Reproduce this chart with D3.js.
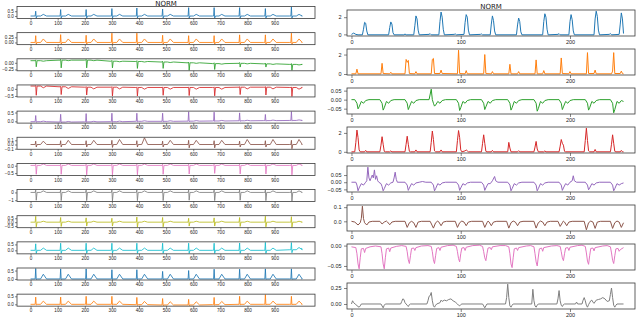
<!DOCTYPE html>
<html>
<head>
<meta charset="utf-8">
<script src="https://cdn.jsdelivr.net/npm/d3@7"></script>
<style>
  body { margin: 0; background: #fff; }
  svg { display: block; font-family: "DejaVu Sans", sans-serif; }
  .tick line { stroke: #333; stroke-width: 0.6; }
  .tick text { fill: #222; }
  .domain { display: none; }
</style>
</head>
<body>
<svg id="chart" width="638" height="318"></svg>
<script>
// ---- left panel: 12 leads, 1000 samples, values read per beat ----
const leftBeats = [19, 111, 205, 300, 392, 487, 583, 677, 771, 866, 962];
const leftBase = [
  0, 0,
  [0.08, 0.1, 0.1, 0.06, 0.05, 0.03, 0.0, -0.03, -0.02, -0.04, -0.06],
  [0.2, 0.15, 0.12, 0.12, 0.1, 0.1, 0.1, 0.1, 0.12, 0.12, 0.1],
  [-0.02, -0.04, -0.03, -0.02, 0.0, 0.0, 0.01, 0.02, 0.03, 0.04, 0.05],
  0, 0.02, 0, 0,
  [0, 0, 0, 0, 0, 0, 0, 0, 0, 0, 0.05],
  0,
  [0, 0, 0, 0, -0.02, -0.04, -0.04, -0.02, 0, 0, 0]
];
const leftR = [
  [0.5, 0.67, 0.67, 0.77, 0.83, 0.73, 0.87, 0.87, 0.87, 0.77, 0.93],
  [0.33, 0.38, 0.35, 0.45, 0.45, 0.35, 0.33, 0.33, 0.37, 0.37, 0.45],
  0.03,
  0.04,
  [0.35, 0.44, 0.47, 0.48, 0.46, 0.46, 0.53, 0.5, 0.45, 0.35, 0.5],
  [0.08, 0.09, 0.09, 0.1, 0.09, 0.08, 0.1, 0.09, 0.08, 0.09, 0.1],
  0.08,
  0.3,
  [0.75, 0.6, 0.55, 0.5, 0.65, 0.6, 0.5, 0.55, 0.6, 0.76, 0.7],
  [0.55, 0.6, 0.6, 0.6, 0.6, 0.6, 0.6, 0.6, 0.62, 0.67, 0.6],
  [0.62, 0.6, 0.6, 0.55, 0.55, 0.45, 0.5, 0.58, 0.58, 0.6, 0.6],
  [0.45, 0.45, 0.5, 0.5, 0.45, 0.4, 0.35, 0.45, 0.5, 0.6, 0.5]
];
const leftS = [
  -0.2, -0.08,
  [-0.23, -0.29, -0.29, -0.25, -0.26, -0.24, -0.28, -0.22, -0.14, -0.12, -0.22],
  [-0.65, -0.55, -0.55, -0.62, -0.6, -0.55, -0.57, -0.59, -0.52, -0.55, -0.63],
  -0.03,
  [-0.06, -0.06, -0.06, -0.07, -0.06, -0.06, -0.08, -0.08, -0.06, -0.06, -0.1],
  [-0.6, -0.6, -0.64, -0.64, -0.64, -0.6, -0.58, -0.54, -0.58, -0.58, -0.64],
  [-1.0, -1.05, -1.05, -1.1, -1.05, -1.05, -1.0, -1.05, -1.0, -1.05, -1.1],
  [-0.6, -0.55, -0.5, -0.5, -0.64, -0.6, -0.5, -0.5, -0.55, -0.6, -0.64],
  -0.25, -0.03, -0.04
];
const leftT = [
  0.17, 0.17, -0.02, -0.12, 0.03,
  [0.08, 0.1, 0.1, 0.12, 0.16, 0.1, 0.1, 0.1, 0.12, 0.12, 0.12],
  0.1, 0.2, 0.12, 0.19, 0.28, 0.2
];
const leftEnd = [0.02, 0, -0.06, 0.1, 0.05, 0, 0.02, 0, 0, 0.2, 0, 0];
const leftXTicks = [0, 100, 200, 300, 400, 500, 600, 700, 800, 900];
const leftYTicks = [
  ["0.0", "0.5"], ["0.00", "0.25"], ["−0.25", "0.00"], ["−0.5", "0.0"],
  ["0.0", "0.5"], ["−0.1", "0.0", "0.1"], ["−0.5", "0.0"], ["−1", "0"],
  ["−0.5", "0.0", "0.5"], ["0.0", "0.5"], ["0.0", "0.5"], ["0.0", "0.5"]
];

// ---- right panel: 8 channels, 250 samples, vertices ----
const rightBlue = [[0,0],[2,0.15],[4,0],[6,-0.05],[10,-0.05],[11,0.6],[12,1.4],[13,1.3],[14,0.4],[15,-0.05],
  [34,-0.05],[35,0.8],[36,1.45],[37,1.2],[38,0.2],[39,-0.05],[48,-0.05],[49,0.05],[50,-0.05],
  [57,-0.05],[58,1.0],[59,2.15],[60,1.8],[61,0.5],[62,-0.05],[71,0],[72,0.08],[73,-0.05],
  [80,-0.05],[81,1.5],[82,2.6],[83,2.0],[84,0.6],[85,-0.05],[94,0],[95,0.05],[96,-0.05],
  [103,0],[104,1.4],[105,2.3],[106,2.0],[107,0.5],[108,-0.05],[118,0],[119,0.05],[120,-0.05],
  [127,-0.05],[128,1.2],[129,2.15],[130,1.6],[131,0.4],[132,-0.05],
  [151,-0.05],[152,1.1],[153,1.9],[154,1.5],[155,0.3],[156,-0.05],
  [175,-0.05],[176,1.5],[177,2.4],[178,2.0],[179,0.6],[180,-0.05],[189,0],[190,0.08],[191,-0.05],
  [199,-0.05],[200,1.5],[201,2.3],[202,1.7],[203,0.4],[204,-0.05],
  [222,-0.05],[223,1.8],[224,2.7],[225,2.1],[226,0.5],[227,-0.05],[236,0],[237,0.1],[238,-0.05],
  [245,0],[246,1.2],[247,2.5],[248,1.8],[249,0.1]];
const rightOrange = [[0,0.02],[4,0.02],[5,0.5],[6,0.02],
  [27,0.02],[28,1.1],[29,0.05],[35,0.02],[36,0.18],[37,0.02],
  [49,0.02],[50,1.5],[51,1.2],[52,1.4],[53,0.05],[58,0.02],[59,0.25],[60,0.02],
  [73,0.02],[74,1.5],[75,1.6],[76,0.05],[81,0.05],[82,0.4],[83,0.05],
  [97,0.02],[98,2.45],[99,0.05],[104,0.02],[105,0.35],[106,0.02],
  [121,0.02],[122,2.0],[123,0.05],[128,0.02],[129,0.25],[130,0.02],
  [144,0.02],[145,1.0],[146,0.02],[152,0.02],[153,0.25],[154,0.02],
  [168,0.02],[169,1.45],[170,0.02],[175,0.02],[176,0.35],[177,0.02],
  [191,0.02],[192,1.65],[193,0.05],[199,0.02],[200,0.25],[201,0.02],
  [215,0.02],[216,2.2],[217,0.05],[222,0.05],[223,0.4],[224,0.02],
  [238,0.02],[239,0.3],[240,2.2],[241,0.05],[246,0.05],[247,0.3],[248,0.05],[249,0.02]];
const rightGreen = [[0,0],[3,0],[5,-0.02],[6,-0.051],[7,-0.04],[9,-0.01],[11,-0.02],[13,-0.005],[16,0],
  [26,0],[28,-0.02],[29,-0.058],[30,-0.045],[32,-0.01],[34,-0.02],[36,-0.005],[39,0],
  [49,0],[51,-0.02],[52,-0.055],[53,-0.04],[55,-0.01],[57,-0.02],[59,-0.005],[62,0],
  [71,0],[73,0.058],[74,0],[75,-0.02],[76,-0.036],[77,-0.03],[79,-0.01],[81,-0.02],[83,-0.005],[86,0],
  [96,0],[98,-0.02],[99,-0.06],[100,-0.045],[102,-0.01],[104,-0.02],[106,-0.005],[109,0],
  [119,0],[121,-0.02],[122,-0.055],[123,-0.04],[125,-0.01],[127,-0.02],[129,-0.005],[132,0],
  [143,0],[145,-0.02],[146,-0.058],[147,-0.045],[149,-0.01],[151,-0.02],[153,-0.005],[156,0],
  [167,0],[169,-0.02],[170,-0.064],[171,-0.05],[173,-0.01],[175,-0.02],[177,-0.005],[180,0],
  [190,0],[192,-0.02],[193,-0.055],[194,-0.04],[196,-0.01],[198,-0.02],[200,-0.005],[203,0],
  [214,0],[216,-0.02],[217,-0.058],[218,-0.045],[220,-0.01],[222,-0.02],[224,-0.005],[227,0],
  [237,0],[239,-0.02],[240,-0.073],[241,-0.055],[243,-0.01],[245,-0.02],[247,-0.005],[249,-0.01]];
const rightRed = [[0,0],[3,0],[4,1.0],[5,2.3],[6,1.5],[7,0.2],[8,0],[12,0],[13,0.15],[14,0],
  [26,0],[27,0.7],[28,1.6],[29,0.8],[30,0.05],[31,0],[35,0],[36,0.1],[37,0],
  [49,0],[50,0.8],[51,1.65],[52,0.8],[53,0.05],[54,0],[58,0],[59,0.2],[60,0],
  [72,0],[73,1.0],[74,2.2],[75,1.3],[76,0.1],[77,0],[81,0],[82,0.2],[83,0],
  [96,0],[97,1.2],[98,2.25],[99,1.5],[100,0.2],[101,0],[104,0.1],[105,0.2],[106,0.1],[107,0],
  [119,0],[120,0.9],[121,1.8],[122,0.9],[123,0.05],[124,0],[128,0],[129,0.15],[130,0],
  [143,0],[144,1.0],[145,0.4],[146,0],[152,0],[153,0.12],[154,0],
  [167,0],[168,0.5],[169,1.1],[170,0.3],[171,0],[176,0],[177,0.1],[178,0],
  [190,0],[191,0.6],[192,1.3],[193,0.9],[194,0.7],[195,0.05],[196,0],
  [213,0],[214,1.2],[215,2.5],[216,1.2],[217,0.1],[218,0],[222,0],[223,0.25],[224,0],
  [237,0],[238,0.8],[239,1.8],[240,0.9],[241,0.05],[242,0],[246,0],[247,0.15],[248,0],[249,0]];
const rightPurple = [[0,0],[4,0],[5,-0.02],[6,-0.06],[7,-0.04],[9,-0.01],[11,-0.02],[13,0],[14,0.01],[15,0.105],
  [16,0.03],[17,0.01],[18,0.03],[19,0.05],[20,0.03],[21,0.086],[22,0.02],[23,0.045],[24,0.01],[25,0],
  [27,-0.01],[28,-0.03],[29,-0.06],[30,-0.045],[32,-0.01],[34,-0.02],[36,-0.005],[38,0],[39,0.03],[40,0.07],[41,0.02],[42,0],
  [49,0],[51,-0.02],[52,-0.057],[53,-0.04],[55,-0.01],[57,-0.02],[59,-0.005],[62,0],[65,0.005],[68,0],
  [73,0],[75,-0.02],[76,-0.06],[77,-0.045],[79,-0.01],[81,-0.02],[83,-0.005],[86,0],
  [96,0],[98,-0.02],[99,-0.057],[100,-0.04],[102,-0.01],[104,-0.02],[106,-0.005],[109,0],
  [119,0],[121,-0.02],[122,-0.057],[123,-0.04],[125,-0.01],[127,-0.01],[129,0.01],[131,0.04],[132,0.01],[134,0],
  [143,0],[145,-0.02],[146,-0.06],[147,-0.045],[149,-0.01],[151,-0.02],[153,-0.005],[156,0],
  [167,0],[169,-0.02],[170,-0.06],[171,-0.045],[173,-0.01],[175,-0.02],[177,-0.005],[180,0],
  [190,0],[192,-0.02],[193,-0.057],[194,-0.04],[196,-0.01],[198,-0.02],[200,0],[202,0.01],[203,0.045],[204,0.01],[206,0],
  [214,0],[216,-0.02],[217,-0.053],[218,-0.04],[220,-0.01],[222,-0.02],[224,-0.005],[227,0],
  [237,0],[239,-0.02],[240,-0.06],[241,-0.045],[243,-0.01],[245,-0.02],[247,-0.01],[249,-0.005]];
const rightBrown = [[0,0],[3,-0.005],[6,-0.026],[8,-0.01],[9,0.02],[10,0.107],[11,0.02],[12,-0.01],[14,-0.026],[16,-0.005],[19,0],
  [26,0],[28,-0.019],[30,-0.005],[32,0.002],[33,-0.005],[35,-0.024],[37,-0.005],[40,0],
  [49,0],[51,-0.043],[53,-0.01],[55,0],[57,-0.01],[59,-0.043],[61,-0.005],[64,0],
  [72,0],[75,-0.048],[77,-0.01],[79,0.002],[80,-0.005],[82,-0.031],[84,-0.005],[87,0],
  [95,0],[97,-0.043],[99,-0.01],[101,0.002],[103,-0.005],[105,-0.031],[107,-0.005],[110,0],
  [120,0],[122,-0.043],[124,-0.01],[125,0.002],[126,-0.005],[128,-0.031],[130,-0.005],[133,0],
  [142,0],[144,-0.048],[146,-0.01],[148,0.002],[150,-0.005],[152,-0.031],[154,-0.005],[157,0],
  [167,0],[169,-0.048],[171,-0.01],[173,0.002],[175,-0.005],[177,-0.031],[179,-0.005],[182,0],
  [189,0],[191,-0.036],[193,-0.01],[194,0.002],[195,-0.005],[197,-0.031],[199,-0.005],[202,0],
  [213,0],[215,-0.06],[217,-0.01],[219,0.002],[221,-0.005],[223,-0.05],[225,-0.005],[228,0],
  [237,0],[239,-0.05],[241,-0.01],[243,0.002],[245,-0.005],[247,-0.043],[249,-0.01]];
const rightPink = [[0,-0.003],[4,-0.005],[5,-0.02],[6,-0.045],[7,-0.057],[8,-0.03],[9,-0.008],[11,-0.007],[12,-0.017],[13,-0.007],[17,-0.003],[22,-0.001],
  [27,-0.003],[28,-0.02],[29,-0.045],[30,-0.057],[31,-0.03],[32,-0.008],[34,-0.006],[35,-0.015],[36,-0.006],[41,-0.002],[46,0],
  [50,-0.002],[51,-0.015],[52,-0.035],[53,-0.044],[54,-0.025],[55,-0.007],[57,-0.006],[58,-0.012],[59,-0.005],[64,-0.001],[70,0],
  [73,-0.002],[74,-0.015],[75,-0.035],[76,-0.044],[77,-0.025],[78,-0.007],[80,-0.005],[81,-0.012],[82,-0.004],[88,0],[93,0.001],
  [96,-0.002],[97,-0.015],[98,-0.032],[99,-0.04],[100,-0.02],[101,-0.006],[103,-0.005],[104,-0.012],[105,-0.004],[111,0],[117,0.001],
  [120,-0.002],[121,-0.015],[122,-0.03],[123,-0.037],[124,-0.02],[125,-0.006],[127,-0.005],[128,-0.01],[129,-0.003],[136,0],[141,0],
  [144,-0.003],[145,-0.02],[146,-0.045],[147,-0.054],[148,-0.03],[149,-0.008],[151,-0.006],[152,-0.012],[153,-0.005],[160,-0.001],[164,0],
  [167,-0.003],[168,-0.02],[169,-0.04],[170,-0.05],[171,-0.028],[172,-0.008],[174,-0.006],[175,-0.014],[176,-0.005],[183,-0.001],[188,0],
  [191,-0.002],[192,-0.015],[193,-0.03],[194,-0.037],[195,-0.02],[196,-0.006],[198,-0.005],[199,-0.012],[200,-0.004],[207,0],[211,0.001],
  [214,-0.002],[215,-0.018],[216,-0.038],[217,-0.046],[218,-0.025],[219,-0.007],[221,-0.006],[222,-0.013],[223,-0.005],[230,-0.001],[234,0],
  [237,-0.003],[238,-0.018],[239,-0.036],[240,-0.044],[241,-0.025],[242,-0.008],[244,-0.007],[245,-0.014],[246,-0.01],[249,-0.005]];
const rightGray = [[0,0],[1,0.05],[2,0.02],[4,-0.01],[6,-0.04],[7,-0.05],[8,-0.03],[9,0],
  [27,0],[29,-0.06],[30,-0.02],[31,0],
  [45,0],[46,0.04],[47,0.08],[48,0.07],[49,0.02],[50,0],[51,-0.02],[52,-0.04],[53,-0.01],[54,0],
  [69,0],[70,0.05],[71,0.12],[72,0.13],[73,0.18],[74,0.05],[75,-0.03],[76,-0.05],[77,-0.02],[78,0],
  [81,0.02],[82,0.06],[83,0.04],[85,0.06],[87,0.05],[89,0.07],[91,0.08],[93,0.05],[95,0.03],[97,0],[98,-0.02],[99,-0.03],[100,-0.01],[101,0],
  [120,0],[121,-0.03],[122,-0.06],[123,-0.03],[124,0],
  [141,0],[142,0.1],[143,0.31],[144,0.1],[145,-0.03],[146,-0.05],[147,-0.02],[148,0],
  [165,0],[166,0.23],[167,0.05],[168,-0.03],[169,-0.05],[170,-0.02],[171,0],
  [188,0],[189,0.08],[190,0.21],[191,0.05],[192,-0.02],[193,-0.04],[194,-0.01],[195,0],
  [205,0],[206,0.03],[207,0],
  [211,0],[212,0.06],[213,0.1],[214,0.05],[215,-0.02],[216,-0.05],[217,-0.01],[218,0.02],[219,0.05],[220,0.06],[221,0.03],[222,0.01],
  [224,0.06],[226,0.07],[228,0.08],[230,0.1],[232,0.08],[234,0.04],[236,0.05],[237,0.15],[238,0.25],[239,0.1],[240,-0.02],[241,-0.05],[242,-0.02],[243,0],[249,0]];
const rightXTicks = [0, 100, 200];
const rightYTicks = [
  ["0", "2"], ["0", "2"], ["−0.05", "0.00", "0.05"], ["0", "2"],
  ["−0.05", "0.00", "0.05"], ["0.0", "0.1"], ["−0.05", "0.00"], ["0.00", "0.25"]
];
const rightData = [rightBlue, rightOrange, rightGreen, rightRed, rightPurple, rightBrown, rightPink, rightGray];

const colors = d3.schemeCategory10;
const svg = d3.select("#chart");
svg.append("rect").attr("width", 638).attr("height", 318).attr("fill", "#fff");

const pick = (a, j) => Array.isArray(a) ? a[j] : a;

function leadVertices(k) {
  const pts = [[0, pick(leftBase[k], 0)]];
  leftBeats.forEach((b, j) => {
    const z = pick(leftBase[k], j);
    pts.push([b - 6, z], [b - 2, z], [b, z + pick(leftR[k], j)], [b + 2, z + pick(leftS[k], j)],
      [b + 5, z], [b + 18, z], [b + 28, z + pick(leftT[k], j)], [b + 40, z]);
  });
  pts.push([999, leftEnd[k]]);
  return pts;
}

function drawPanel(data, x, top, h, xTicks, yLabels, color, o) {
  const g = svg.append("g");
  const ext = d3.extent(data, d => d[1]);
  const pad = (ext[1] - ext[0]) * 0.05;
  const y = d3.scaleLinear().domain([ext[0] - pad, ext[1] + pad]).range([top + h, top]);
  const [x0, x1] = x.range();

  g.append("path").datum(data)
    .attr("fill", "none").attr("stroke", color).attr("stroke-width", o.lw)
    .attr("stroke-linejoin", "round")
    .attr("d", d3.line().x(d => x(d[0])).y(d => y(d[1])));

  g.append("g").attr("transform", `translate(0,${top + h})`)
    .call(d3.axisBottom(x).tickValues(xTicks).tickSize(o.ts).tickPadding(o.tp).tickFormat(d3.format("d")))
    .selectAll("text").attr("font-size", o.fs);

  const yVals = yLabels.map(s => +s.replace("−", "-"));
  g.append("g").attr("transform", `translate(${x0},0)`)
    .call(d3.axisLeft(y).tickValues(yVals).tickSize(o.ts).tickPadding(o.tpy).tickFormat((d, i) => yLabels[i]))
    .selectAll("text").attr("font-size", o.fs);

  g.append("rect").attr("x", x0).attr("y", top).attr("width", x1 - x0).attr("height", h)
    .attr("fill", "none").attr("stroke", "#3a3a3a").attr("stroke-width", 0.8);
}

// left panel
const leftX = d3.scaleLinear().domain([-50, 1049]).range([17, 315]);
leftR.forEach((_, k) => {
  drawPanel(leadVertices(k), leftX, 6.5 + k * 26.15, 12, leftXTicks, leftYTicks[k], colors[k % 10],
    { lw: 0.85, ts: 2, tp: 1, tpy: 1.2, fs: 4.6 });
});

// right panel
const rightX = d3.scaleLinear().domain([-4.1, 259.5]).range([347, 635]);
rightData.forEach((data, k) => {
  drawPanel(data, rightX, 10 + k * 39, 26, rightXTicks, rightYTicks[k], colors[k],
    { lw: 1, ts: 3, tp: 1.5, tpy: 2.5, fs: 5.5 });
});

svg.append("text").attr("x", 166).attr("y", 6).attr("text-anchor", "middle")
  .attr("font-size", 7).attr("fill", "#222").text("NORM");
svg.append("text").attr("x", 491).attr("y", 8.5).attr("text-anchor", "middle")
  .attr("font-size", 7).attr("fill", "#222").text("NORM");
</script>
</body>
</html>
